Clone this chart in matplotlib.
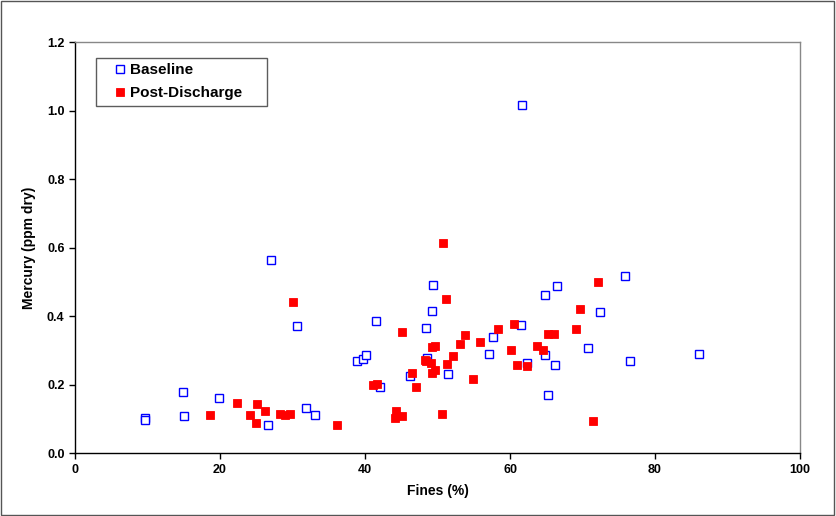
import matplotlib
matplotlib.use("Agg")
import matplotlib.pyplot as plt
from matplotlib.patches import Rectangle

plt.rcParams['font.family'] = ['Liberation Sans', 'DejaVu Sans']

# Baseline samples: fines (%) and mercury (ppm dry)
baseline_fines = [9.6, 9.7, 14.9, 15.0, 19.9, 27.1, 30.6, 26.6, 31.9, 33.1,
                  38.9, 39.7, 40.2, 41.5, 42.1, 46.2, 48.4, 48.5, 49.2, 49.4,
                  51.5, 57.1, 57.6, 61.5, 62.4, 64.8, 64.8, 65.3, 66.2, 66.5,
                  75.9, 72.4, 70.8, 76.5, 86.0, 61.6]
baseline_hg = [0.102, 0.097, 0.179, 0.110, 0.161, 0.564, 0.372, 0.083, 0.131, 0.112,
               0.268, 0.276, 0.288, 0.387, 0.194, 0.227, 0.367, 0.279, 0.414, 0.492,
               0.230, 0.289, 0.340, 0.374, 0.263, 0.462, 0.288, 0.171, 0.258, 0.488,
               0.516, 0.411, 0.307, 0.269, 0.291, 1.017]

# Post-discharge samples
post_fines = [18.6, 22.3, 24.2, 25.1, 25.0, 26.2, 28.3, 29.0, 29.7, 30.1,
              36.1, 50.7, 51.2, 45.1, 53.8, 58.3, 60.5, 53.1, 55.9, 49.3,
              49.6, 52.1, 48.3, 48.4, 49.1, 49.2, 49.7, 51.3, 46.5, 47.0,
              41.1, 41.7, 54.9, 44.3, 44.1, 45.1, 50.6, 60.1, 60.9, 62.3,
              63.7, 64.5, 65.2, 66.1, 72.2, 69.7, 69.1, 71.5]
post_hg = [0.111, 0.148, 0.111, 0.144, 0.088, 0.123, 0.115, 0.113, 0.115, 0.442,
           0.082, 0.613, 0.449, 0.353, 0.345, 0.364, 0.377, 0.318, 0.324, 0.311,
           0.313, 0.285, 0.273, 0.268, 0.263, 0.234, 0.244, 0.262, 0.235, 0.194,
           0.198, 0.202, 0.216, 0.122, 0.102, 0.110, 0.116, 0.302, 0.259, 0.256,
           0.312, 0.302, 0.347, 0.349, 0.499, 0.420, 0.364, 0.094]

fig = plt.figure(figsize=(8.36, 5.16), dpi=100)
fig.patches.append(Rectangle((0.001, 0.002), 0.997, 0.996, transform=fig.transFigure,
                             fill=False, edgecolor='#555555', linewidth=1.0))
ax = fig.add_axes([0.0897, 0.1215, 0.8673, 0.7971])

ax.plot(baseline_fines, baseline_hg, linestyle='none', marker='s', markersize=5.4,
        markerfacecolor='white', markeredgecolor='#0000ff', markeredgewidth=1.0,
        label='Baseline')
ax.plot(post_fines, post_hg, linestyle='none', marker='s', markersize=5.6,
        markerfacecolor='#ff0000', markeredgecolor='#ff0000', markeredgewidth=0.6,
        label='Post-Discharge')

ax.set_xlim(0, 100)
ax.set_ylim(0, 1.2)
ax.set_xticks([0, 20, 40, 60, 80, 100])
ax.set_yticks([0, 0.2, 0.4, 0.6, 0.8, 1.0, 1.2])
ax.set_yticklabels(['0.0', '0.2', '0.4', '0.6', '0.8', '1.0', '1.2'])
ax.tick_params(direction='out', length=4, width=1, labelsize=9)
for lbl in ax.get_xticklabels() + ax.get_yticklabels():
    lbl.set_fontweight('bold')

for side in ['left', 'bottom']:
    ax.spines[side].set_color('black')
    ax.spines[side].set_linewidth(1.0)
for side in ['top', 'right']:
    ax.spines[side].set_color('#888888')
    ax.spines[side].set_linewidth(1.0)

ax.set_xlabel('Fines (%)', fontsize=10, fontweight='bold', labelpad=6)
ax.set_ylabel('Mercury (ppm dry)', fontsize=10, fontweight='bold', labelpad=8)

# legend box stretched to a fixed width in axes coordinates
leg = ax.legend(loc='upper left', bbox_to_anchor=(0.029, 0.962, 0.236, 0.0),
                mode='expand', frameon=True, fancybox=False,
                prop={'weight': 'bold', 'size': 11},
                handlelength=2.4, handletextpad=-0.5, borderpad=0.35,
                labelspacing=0.62, borderaxespad=0)
leg.get_frame().set_edgecolor('#333333')
leg.get_frame().set_linewidth(1.0)

fig.savefig('out.png', dpi=100)
